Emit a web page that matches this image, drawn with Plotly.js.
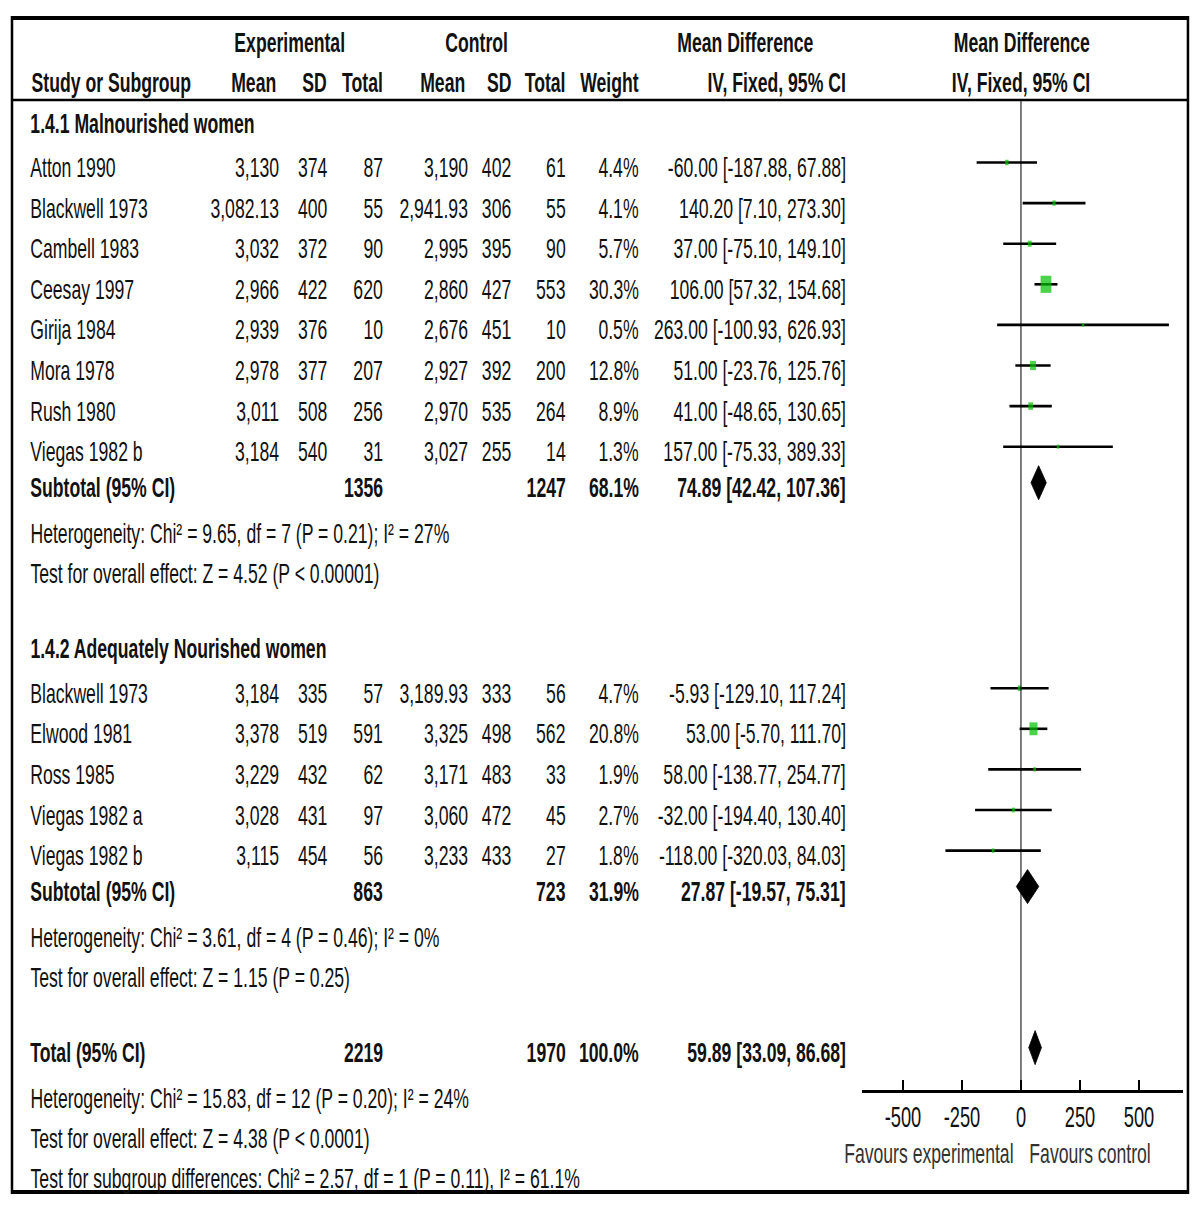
<!DOCTYPE html>
<html>
<head>
<meta charset="utf-8">
<script src="https://cdn.plot.ly/plotly-3.0.1.min.js"></script>
<style>
  body { margin:0; overflow:hidden; background:#fff; }
  /* the reference is horizontally squeezed, so draw wide and squeeze */
  #forest { width:1905px; height:1208px; transform:scaleX(0.6299); transform-origin:0 0; }
</style>
</head>
<body>
<div id="forest"></div>
<script>
var groupNames = ['1.4.1 Malnourished women', '1.4.2 Adequately Nourished women'];

// 1.4.1 Malnourished women
var g1Studies = ['Atton 1990','Blackwell 1973','Cambell 1983','Ceesay 1997','Girija 1984','Mora 1978','Rush 1980','Viegas 1982 b'];
var g1ExpMean = [3130, 3082.13, 3032, 2966, 2939, 2978, 3011, 3184];
var g1ExpSD   = [374, 400, 372, 422, 376, 377, 508, 540];
var g1ExpN    = [87, 55, 90, 620, 10, 207, 256, 31];
var g1CtlMean = [3190, 2941.93, 2995, 2860, 2676, 2927, 2970, 3027];
var g1CtlSD   = [402, 306, 395, 427, 451, 392, 535, 255];
var g1CtlN    = [61, 55, 90, 553, 10, 200, 264, 14];
var g1Weight  = [4.4, 4.1, 5.7, 30.3, 0.5, 12.8, 8.9, 1.3];
var g1MD      = [-60.00, 140.20, 37.00, 106.00, 263.00, 51.00, 41.00, 157.00];
var g1Lo      = [-187.88, 7.10, -75.10, 57.32, -100.93, -23.76, -48.65, -75.33];
var g1Hi      = [67.88, 273.30, 149.10, 154.68, 626.93, 125.76, 130.65, 389.33];

// 1.4.2 Adequately Nourished women
var g2Studies = ['Blackwell 1973','Elwood 1981','Ross 1985','Viegas 1982 a','Viegas 1982 b'];
var g2ExpMean = [3184, 3378, 3229, 3028, 3115];
var g2ExpSD   = [335, 519, 432, 431, 454];
var g2ExpN    = [57, 591, 62, 97, 56];
var g2CtlMean = [3189.93, 3325, 3171, 3060, 3233];
var g2CtlSD   = [333, 498, 483, 472, 433];
var g2CtlN    = [56, 562, 33, 45, 27];
var g2Weight  = [4.7, 20.8, 1.9, 2.7, 1.8];
var g2MD      = [-5.93, 53.00, 58.00, -32.00, -118.00];
var g2Lo      = [-129.10, -5.70, -138.77, -194.40, -320.03];
var g2Hi      = [117.24, 111.70, 254.77, 130.40, 84.03];

// subtotals per group
var subExpN   = [1356, 863];
var subCtlN   = [1247, 723];
var subWeight = [68.1, 31.9];
var subMD     = [74.89, 27.87];
var subLo     = [42.42, -19.57];
var subHi     = [107.36, 75.31];
var subHet    = ['Heterogeneity: Chi² = 9.65, df = 7 (P = 0.21); I² = 27%',
                 'Heterogeneity: Chi² = 3.61, df = 4 (P = 0.46); I² = 0%'];
var subTest   = ['Test for overall effect: Z = 4.52 (P &lt; 0.00001)',
                 'Test for overall effect: Z = 1.15 (P = 0.25)'];

// overall
var totalExpN = 2219, totalCtlN = 1970, totalWeight = 100.0;
var totalMD = 59.89, totalLo = 33.09, totalHi = 86.68;
var totalNotes = ['Heterogeneity: Chi² = 15.83, df = 12 (P = 0.20); I² = 24%',
                  'Test for overall effect: Z = 4.38 (P &lt; 0.0001)',
                  'Test for subgroup differences: Chi² = 2.57, df = 1 (P = 0.11), I² = 61.1%'];

var tickVals = [-500, -250, 0, 250, 500];
var favours = ['Favours experimental', 'Favours control'];

var groups = [
  {studies:g1Studies, em:g1ExpMean, es:g1ExpSD, en:g1ExpN, cm:g1CtlMean, cs:g1CtlSD, cn:g1CtlN, w:g1Weight, md:g1MD, lo:g1Lo, hi:g1Hi},
  {studies:g2Studies, em:g2ExpMean, es:g2ExpSD, en:g2ExpN, cm:g2CtlMean, cs:g2CtlSD, cn:g2CtlN, w:g2Weight, md:g2MD, lo:g2Lo, hi:g2Hi}
];

var FONT = 'Liberation Sans, Arial, sans-serif';
var INK = '#111';
var SZ = 28;
// column right edges (screen px in a 1200 wide picture)
var col = {label:29, em:280, es:329, en:384, cm:469, cs:513, cn:567, w:640, md:847};

var annotations = [];
function txt(s, x, y, anchor, bold, size, color) {
  annotations.push({
    text: bold ? '<b>' + s + '</b>' : s,
    xref:'paper', yref:'y', x:x / 1200, y:y,
    xanchor:anchor, yanchor:'middle', showarrow:false,
    font:{family:FONT, size:size || SZ, color:color || INK}
  });
}
function num(v) { return v.toLocaleString('en-US', {maximumFractionDigits:2}); }
function ci(m, l, h) { return m.toFixed(2) + ' [' + l.toFixed(2) + ', ' + h.toFixed(2) + ']'; }

// header
txt('Experimental', 290, 42, 'center', true);
txt('Control', 477, 42, 'center', true);
txt('Mean Difference', 745, 42, 'center', true);
txt('Mean Difference', 1022, 42, 'center', true);
txt('Study or Subgroup', 30, 82, 'left', true);
txt('Mean', 278, 82, 'right', true);
txt('SD', 328, 82, 'right', true);
txt('Total', 384, 82, 'right', true);
txt('Mean', 467, 82, 'right', true);
txt('SD', 513, 82, 'right', true);
txt('Total', 567, 82, 'right', true);
txt('Weight', 640, 82, 'right', true);
txt('IV, Fixed, 95% CI', col.md, 82, 'right', true);
txt('IV, Fixed, 95% CI', 1021, 82, 'center', true);

var ciX = [], ciY = [], sqX = [], sqY = [], sqS = [];
var diamonds = [];
var MOFF = -5;

function diamond(m, l, h, y) {
  diamonds.push({x:[l, m, h, m, l], y:[y, y - 17, y, y + 17, y]});
}

var y = 123;
groups.forEach(function (g, gi) {
  if (gi > 0) y += 75;
  txt(groupNames[gi], col.label, y, 'left', true);
  g.studies.forEach(function (s, i) {
    y += (i === 0) ? 44.5 : 40.6;
    txt(s, col.label, y, 'left');
    txt(num(g.em[i]), col.em, y, 'right');
    txt(String(g.es[i]), col.es, y, 'right');
    txt(String(g.en[i]), col.en, y, 'right');
    txt(num(g.cm[i]), col.cm, y, 'right');
    txt(String(g.cs[i]), col.cs, y, 'right');
    txt(String(g.cn[i]), col.cn, y, 'right');
    txt(g.w[i].toFixed(1) + '%', col.w, y, 'right');
    txt(ci(g.md[i], g.lo[i], g.hi[i]), col.md, y, 'right');
    ciX.push(g.lo[i], g.hi[i], null);
    ciY.push(y + MOFF, y + MOFF, null);
    sqX.push(g.md[i]); sqY.push(y + MOFF); sqS.push(3.5 + 0.45 * g.w[i]);
  });
  y += 36;
  txt('Subtotal (95% CI)', col.label, y, 'left', true);
  txt(String(subExpN[gi]), col.en, y, 'right', true);
  txt(String(subCtlN[gi]), col.cn, y, 'right', true);
  txt(subWeight[gi].toFixed(1) + '%', col.w, y, 'right', true);
  txt(ci(subMD[gi], subLo[gi], subHi[gi]), col.md, y, 'right', true);
  diamond(subMD[gi], subLo[gi], subHi[gi], y + MOFF);
  y += 46;
  txt(subHet[gi], col.label, y, 'left');
  y += 40;
  txt(subTest[gi], col.label, y, 'left');
});

y += 75;
txt('Total (95% CI)', col.label, y, 'left', true);
txt(String(totalExpN), col.en, y, 'right', true);
txt(String(totalCtlN), col.cn, y, 'right', true);
txt(totalWeight.toFixed(1) + '%', col.w, y, 'right', true);
txt(ci(totalMD, totalLo, totalHi), col.md, y, 'right', true);
diamond(totalMD, totalLo, totalHi, y + MOFF);
y += 46;
txt(totalNotes[0], col.label, y, 'left');
y += 40;
txt(totalNotes[1], col.label, y, 'left');
y += 40;
txt(totalNotes[2], col.label, y, 'left');

var AXIS_Y = 1091;
txt(favours[0], 929, 1153, 'center', false, SZ, '#333');
txt(favours[1], 1090, 1153, 'center', false, SZ, '#333');

var data = [
  {x:ciX, y:ciY, mode:'lines', type:'scatter', line:{color:'#000', width:2.6}, hoverinfo:'skip'},
  {x:sqX, y:sqY, mode:'markers', type:'scatter', hoverinfo:'skip',
   marker:{symbol:'square', size:sqS, color:'#00c000', line:{width:0}}}
];
diamonds.forEach(function (d) {
  data.push({x:d.x, y:d.y, mode:'lines', type:'scatter', fill:'toself',
             fillcolor:'#000', line:{color:'#000', width:1}, hoverinfo:'skip'});
});

var layout = {
  width:1905, height:1208,
  margin:{l:0, r:0, t:0, b:0},
  paper_bgcolor:'#fff', plot_bgcolor:'rgba(0,0,0,0)',
  showlegend:false,
  xaxis:{
    domain:[862 / 1200, 1183 / 1200], range:[-673.7, 686.4],
    anchor:'free', position:(1208 - AXIS_Y) / 1208,
    showline:true, linecolor:'#000', linewidth:2.5,
    ticks:'inside', ticklen:10, tickwidth:3, tickcolor:'#000',
    tickvals:tickVals, ticktext:tickVals.map(String),
    tickfont:{family:FONT, size:29, color:INK},
    showgrid:false, zeroline:false, fixedrange:true
  },
  yaxis:{domain:[0, 1], range:[1208, 0], visible:false, fixedrange:true},
  shapes:[
    {type:'rect', xref:'paper', yref:'y', x0:12 / 1200, x1:1188 / 1200, y0:18, y1:1192,
     line:{color:'#000', width:4}},
    {type:'line', xref:'paper', yref:'y', x0:12 / 1200, x1:1188 / 1200, y0:100, y1:100,
     line:{color:'#000', width:2.5}},
    {type:'line', xref:'x', yref:'y', x0:0, x1:0, y0:100, y1:AXIS_Y,
     line:{color:'#000', width:1.6}}
  ],
  annotations:annotations
};

Plotly.newPlot('forest', data, layout, {staticPlot:true, displayModeBar:false});
</script>
</body>
</html>
